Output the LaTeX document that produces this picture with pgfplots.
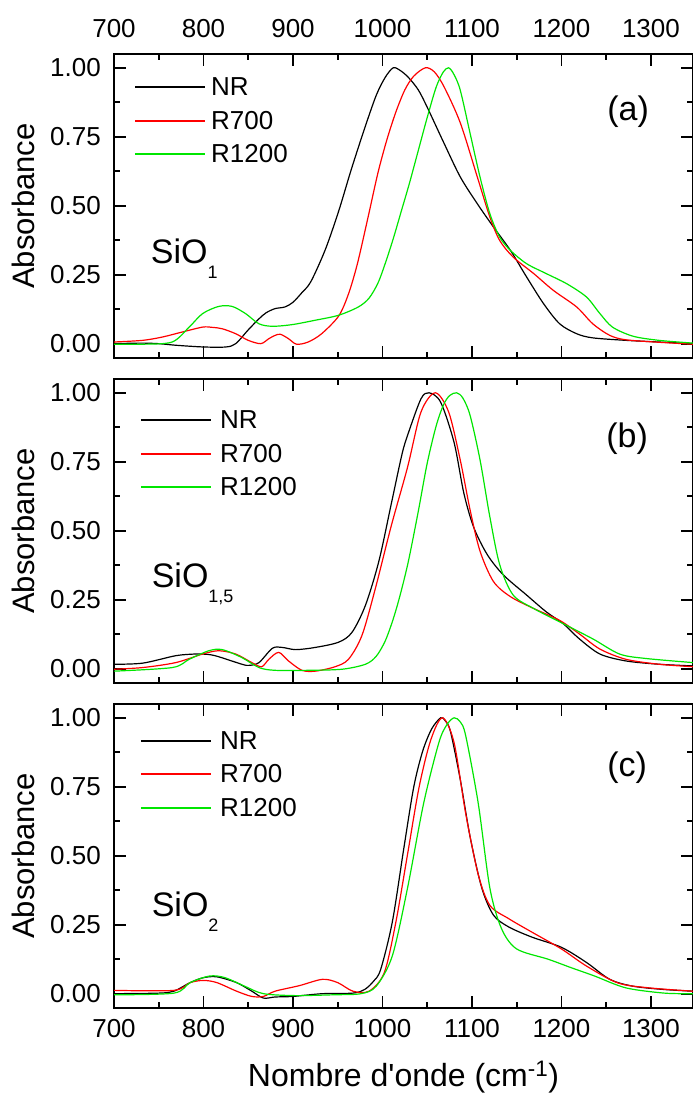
\documentclass[border=0pt]{standalone}
\usepackage{fontspec}
\setmainfont{Liberation Sans}
\usepackage{pgfplots}
\pgfplotsset{compat=1.18}
\definecolor{cred}{RGB}{255,0,0}
\definecolor{cgreen}{RGB}{0,230,0}

\pgfplotsset{
 panel/.style={
  scale only axis, width=579pt, height=304pt,
  xmin=700, xmax=1347, ymin=-0.052, ymax=1.05,
  xtick={700,800,...,1300}, minor x tick num=1,
  ytick={0,0.25,0.5,0.75,1}, minor y tick num=1,
  tick align=inside,
  major tick length=12pt, minor tick length=6pt,
  axis line style={line width=2pt},
  every tick/.style={black, line width=1.8pt},
  tick label style={font=\fontsize{26}{30}\selectfont},
  /pgf/number format/assume math mode=true,
  /pgf/number format/1000 sep={},
  yticklabel style={/pgf/number format/fixed, /pgf/number format/fixed zerofill, /pgf/number format/precision=2, anchor=east, inner sep=0pt, xshift=-13pt},
  ylabel={Absorbance},
  ylabel style={at={(axis description cs:-0.1364,0.5)}, anchor=south, inner sep=0pt, font=\fontsize{31}{36}\selectfont},
  every axis plot/.append style={line width=1.2pt, smooth},
 },
 nr/.style={black}, r7/.style={cred}, r12/.style={cgreen},
}
\tikzset{legtext/.style={anchor=west, inner sep=0pt, font=\fontsize{26}{30}\selectfont}}
% manual legend: #1 line start, #2 line end, #3 text x, #4 #5 #6 row heights (axis description cs)
\newcommand{\mylegend}[6]{%
  \draw[black, line width=1.2pt] (axis description cs:#1,#4) -- (axis description cs:#2,#4);
  \node[legtext] at (axis description cs:#3,#4) {NR};
  \draw[cred, line width=1.2pt] (axis description cs:#1,#5) -- (axis description cs:#2,#5);
  \node[legtext] at (axis description cs:#3,#5) {R700};
  \draw[cgreen, line width=1.2pt] (axis description cs:#1,#6) -- (axis description cs:#2,#6);
  \node[legtext] at (axis description cs:#3,#6) {R1200};
}

\begin{document}
\begin{tikzpicture}
% ---------------- panel (a)
\begin{axis}[panel, at={(114pt,-54pt)}, anchor=north west,
  xticklabel pos=right, xticklabel style={inner sep=0pt, yshift=16pt}]
\addplot[nr] coordinates {(700,0.0) (730,0.002) (750,0.0) (770,-0.006) (800,-0.012) (825,-0.012) (836,0.0) (850,0.05) (862,0.09) (870,0.112) (880,0.127) (891,0.133) (900,0.15) (910,0.185) (920,0.225) (936,0.34) (951,0.48) (965,0.63) (980,0.78) (993,0.90) (1003,0.965) (1012,1.0) (1020,0.99) (1029,0.965) (1040,0.92) (1050,0.857) (1069,0.725) (1087,0.604) (1106,0.507) (1124,0.423) (1143,0.338) (1161,0.242) (1180,0.145) (1198,0.072) (1217,0.036) (1235,0.021) (1272,0.012) (1309,0.006) (1347,0.0)};
\addplot[r7] coordinates {(700,0.006) (732,0.012) (754,0.024) (776,0.042) (799,0.060) (810,0.059) (821,0.054) (836,0.036) (850,0.012) (864,0.0) (873,0.018) (880,0.03) (886,0.034) (895,0.018) (904,-0.002) (917,0.006) (932,0.036) (951,0.100) (962,0.18) (972,0.29) (984,0.46) (995,0.62) (1005,0.74) (1015,0.84) (1025,0.92) (1035,0.97) (1048,1.0) (1058,0.985) (1069,0.93) (1087,0.80) (1106,0.604) (1120,0.459) (1131,0.374) (1146,0.314) (1169,0.254) (1191,0.193) (1217,0.133) (1235,0.072) (1254,0.030) (1272,0.014) (1309,0.005) (1347,-0.002)};
\addplot[r12] coordinates {(700,-0.002) (732,-0.002) (765,0.006) (784,0.06) (799,0.109) (817,0.135) (832,0.135) (847,0.109) (862,0.072) (877,0.063) (899,0.069) (925,0.085) (951,0.103) (973,0.133) (985,0.165) (995,0.22) (1003,0.29) (1012,0.38) (1021,0.48) (1030,0.58) (1040,0.70) (1050,0.82) (1060,0.93) (1068,0.985) (1074,1.0) (1080,0.975) (1087,0.918) (1098,0.761) (1109,0.604) (1120,0.471) (1131,0.386) (1143,0.338) (1161,0.29) (1183,0.254) (1206,0.217) (1228,0.169) (1243,0.109) (1257,0.060) (1280,0.027) (1309,0.012) (1347,0.002)};
\mylegend{0.0363}{0.1572}{0.1675}{0.8914}{0.7796}{0.6711}
\node[anchor=base west, font=\fontsize{34}{40}\selectfont, inner sep=0pt] at (axis cs:741,0.291) {SiO\raisebox{-15pt}{\fontsize{18}{20}\selectfont 1}};
\node[anchor=base west, font=\fontsize{34}{40}\selectfont, inner sep=0pt] at (axis cs:1251,0.81) {(a)};
\end{axis}
% ---------------- panel (b)
\begin{axis}[panel, at={(114pt,-379pt)}, anchor=north west,
  xticklabels={}]
\addplot[nr] coordinates {(700,0.016) (732,0.02) (769,0.047) (790,0.053) (799,0.053) (813,0.047) (843,0.016) (851,0.012) (862,0.022) (877,0.074) (888,0.077) (903,0.069) (925,0.077) (951,0.096) (966,0.132) (981,0.23) (996,0.39) (1010,0.60) (1022,0.78) (1029,0.855) (1043,0.978) (1052,1.0) (1065,0.966) (1080,0.82) (1091,0.635) (1102,0.512) (1117,0.414) (1135,0.34) (1161,0.267) (1183,0.206) (1202,0.163) (1220,0.108) (1243,0.053) (1272,0.028) (1309,0.016) (1347,0.01)};
\addplot[r7] coordinates {(700,-0.002) (732,0.004) (769,0.022) (799,0.053) (817,0.065) (836,0.053) (854,0.022) (865,0.007) (873,0.034) (884,0.059) (895,0.028) (910,-0.006) (925,-0.009) (947,0.007) (962,0.034) (977,0.12) (992,0.29) (1010,0.52) (1028,0.73) (1043,0.93) (1059,1.0) (1074,0.93) (1087,0.755) (1098,0.574) (1109,0.426) (1124,0.316) (1143,0.261) (1169,0.218) (1198,0.175) (1220,0.126) (1243,0.071) (1272,0.034) (1309,0.016) (1347,0.007)};
\addplot[r12] coordinates {(700,-0.009) (765,0.004) (784,0.034) (806,0.065) (821,0.069) (843,0.04) (862,0.004) (880,-0.006) (917,-0.006) (955,-0.002) (981,0.016) (993,0.045) (1003,0.1) (1012,0.18) (1020,0.27) (1029,0.39) (1040,0.57) (1050,0.745) (1060,0.88) (1068,0.955) (1075,0.99) (1083,1.0) (1090,0.98) (1098,0.917) (1109,0.757) (1120,0.55) (1131,0.377) (1146,0.267) (1169,0.218) (1202,0.163) (1235,0.108) (1265,0.053) (1294,0.037) (1347,0.022)};
\mylegend{0.0466}{0.1675}{0.1831}{0.8651}{0.7533}{0.6447}
\node[anchor=base west, font=\fontsize{34}{40}\selectfont, inner sep=0pt] at (axis cs:742,0.296) {SiO\raisebox{-15pt}{\fontsize{18}{20}\selectfont 1,5}};
\node[anchor=base west, font=\fontsize{34}{40}\selectfont, inner sep=0pt] at (axis cs:1250,0.803) {(b)};
\end{axis}
% ---------------- panel (c)
\begin{axis}[panel, at={(114pt,-704pt)}, anchor=north west,
  xticklabel style={inner sep=0pt, yshift=-11pt},
  xlabel={Nombre d\textquotesingle onde (cm\textsuperscript{-1})},
  xlabel style={at={(axis description cs:0.5,-0.2566)}, anchor=base, inner sep=0pt, font=\fontsize{32}{36}\selectfont}]
\addplot[nr] coordinates {(700,0.0) (750,0.002) (767,0.009) (785,0.04) (800,0.058) (815,0.061) (837,0.04) (854,0.009) (867,-0.016) (880,-0.012) (900,-0.01) (933,0.0) (967,0.002) (980,0.015) (990,0.045) (998,0.088) (1011,0.26) (1024,0.53) (1035,0.75) (1045,0.88) (1055,0.96) (1065,1.0) (1070,0.99) (1076,0.95) (1087,0.775) (1098,0.567) (1111,0.383) (1124,0.285) (1141,0.242) (1167,0.205) (1200,0.168) (1228,0.113) (1254,0.052) (1280,0.027) (1315,0.015) (1347,0.009)};
\addplot[r7] coordinates {(700,0.012) (767,0.012) (785,0.04) (800,0.048) (815,0.04) (837,0.009) (854,-0.01) (867,-0.01) (880,0.009) (907,0.029) (933,0.052) (950,0.04) (967,0.009) (985,0.009) (1002,0.076) (1015,0.26) (1028,0.505) (1041,0.75) (1054,0.92) (1067,1.0) (1080,0.91) (1093,0.653) (1107,0.432) (1120,0.32) (1141,0.272) (1167,0.223) (1200,0.162) (1228,0.10) (1263,0.039) (1298,0.021) (1347,0.009)};
\addplot[r12] coordinates {(700,-0.004) (767,0.002) (785,0.04) (807,0.064) (824,0.058) (846,0.027) (867,0.0) (902,-0.007) (946,-0.004) (976,0.0) (993,0.027) (1011,0.137) (1028,0.383) (1046,0.69) (1063,0.91) (1072,0.975) (1080,1.0) (1087,0.985) (1093,0.935) (1107,0.69) (1120,0.383) (1133,0.236) (1150,0.162) (1185,0.125) (1211,0.094) (1237,0.064) (1272,0.021) (1315,0.002) (1347,0.0)};
\mylegend{0.0466}{0.1675}{0.1831}{0.8783}{0.7697}{0.6579}
\node[anchor=base west, font=\fontsize{34}{40}\selectfont, inner sep=0pt] at (axis cs:742,0.279) {SiO\raisebox{-15pt}{\fontsize{18}{20}\selectfont 2}};
\node[anchor=base west, font=\fontsize{34}{40}\selectfont, inner sep=0pt] at (axis cs:1251,0.786) {(c)};
\end{axis}
\pgfresetboundingbox
\path (0pt,0pt) rectangle (693pt,-1093pt);
\end{tikzpicture}
\end{document}
